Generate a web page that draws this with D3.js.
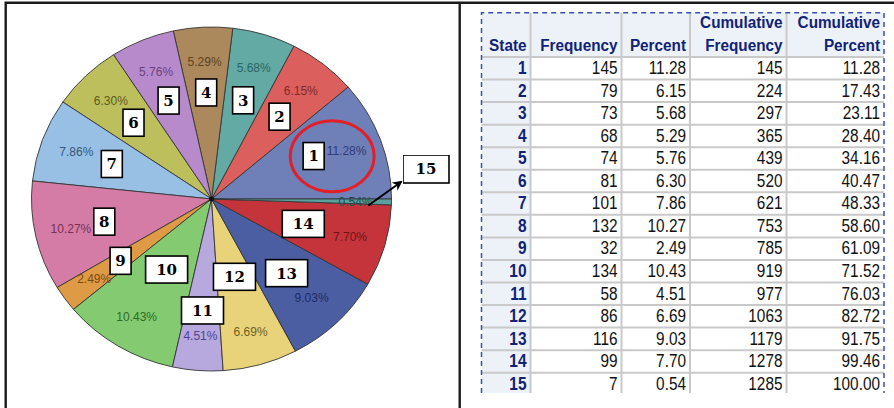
<!DOCTYPE html>
<html>
<head>
<meta charset="utf-8">
<script src="https://cdn.jsdelivr.net/npm/d3@7"></script>
<style>
  body { margin: 0; background: #fff; }
  svg { display: block; }
</style>
</head>
<body>
<div class="chart"></div>
<script>
// table / pie data
const states = ["1","2","3","4","5","6","7","8","9","10","11","12","13","14","15"];
const frequency = [145, 79, 73, 68, 74, 81, 101, 132, 32, 134, 58, 86, 116, 99, 7];
const percent = ["11.28","6.15","5.68","5.29","5.76","6.30","7.86","10.27","2.49","10.43","4.51","6.69","9.03","7.70","0.54"];
const cumFreq = [145, 224, 297, 365, 439, 520, 621, 753, 785, 919, 977, 1063, 1179, 1278, 1285];
const cumPct = ["11.28","17.43","23.11","28.40","34.16","40.47","48.33","58.60","61.09","71.52","76.03","82.72","91.75","99.46","100.00"];
const headers = [["State"], ["Frequency"], ["Percent"], ["Cumulative", "Frequency"], ["Cumulative", "Percent"]];

const sliceColors = ["#6F7FB8","#DA5F5D","#62AAA3","#AC885D","#B78BCB","#BDBE5C","#98C0E4","#D57CA6",
                     "#DE9A44","#83CA70","#B7A9DD","#E8D37B","#4B5EA1","#C6343B","#5AA09F"];
const labelColors = ["#2E3C78","#7E2A2A","#2A6662","#5E4320","#6A3F82","#5C5C1E","#34587A","#7A2F55",
                     "#7A4A14","#2E6A26","#4E4390","#6E5E1E","#1E2A66","#6A1418","#1E4C4C"];

// box distance from centre as fraction of radius, and angle nudge (hand placed annotations)
const boxRadius = [0.62,0.61,0.6,0.62,0.62,0.62,0.59,0.61,0.62,0.48,0.65,0.47,0.6,0.53];
const boxNudge = [0.06,0,0,0,0,0,0,0,0,0,0,0,0,0];

const width = 894, height = 408;
const svg = d3.select("div.chart").append("svg")
    .attr("width", width).attr("height", height)
    .attr("viewBox", `0 0 ${width} ${height}`);

// ---------- pie ----------
const cx = 211.5, cy = 199, R = 180, ky = 172 / 180;

const pie = d3.pie().sort(null).value(d => d)
    .startAngle(Math.PI / 2).endAngle(Math.PI / 2 - 2 * Math.PI);
const arcs = pie(frequency);
const arc = d3.arc().innerRadius(0).outerRadius(R);

const polar = (a, r) => [cx + r * Math.sin(a), cy - r * Math.cos(a) * ky];
const mid = d => (d.startAngle + d.endAngle) / 2;

svg.append("g")
    .attr("transform", `translate(${cx},${cy}) scale(1,${ky})`)
    .selectAll("path")
    .data(arcs)
    .enter()
    .append("path")
    .attr("d", arc)
    .attr("fill", (d, i) => sliceColors[i])
    .attr("stroke", "#333")
    .attr("stroke-width", 0.9);

svg.append("circle").attr("cx", cx).attr("cy", cy).attr("r", 2.5).attr("fill", "#111");

svg.append("g")
    .selectAll("text")
    .data(arcs)
    .enter()
    .append("text")
    .attr("x", d => polar(mid(d), R * 0.8)[0])
    .attr("y", d => polar(mid(d), R * 0.8)[1])
    .attr("dy", "0.35em")
    .attr("text-anchor", "middle")
    .attr("font-family", "Liberation Sans, Arial, sans-serif")
    .attr("font-size", 12)
    .attr("fill", (d, i) => labelColors[i])
    .text((d, i) => percent[i] + "%");

// red ellipse around slice 1
const p1 = polar(mid(arcs[0]), R * 0.715);
svg.append("ellipse")
    .attr("cx", p1[0]).attr("cy", p1[1])
    .attr("rx", 42).attr("ry", 35.5)
    .attr("fill", "none").attr("stroke", "#E21F26").attr("stroke-width", 3);

// numbered boxes
const boxes = svg.append("g")
    .selectAll("g")
    .data(arcs.slice(0, 14))
    .enter()
    .append("g")
    .attr("transform", (d, i) => {
        const p = polar(mid(d) - boxNudge[i], R * boxRadius[i]);
        return `translate(${p[0]},${p[1]})`;
    });

boxes.append("rect")
    .attr("x", (d, i) => states[i].length > 1 ? -21 : -10.5)
    .attr("y", -13.5)
    .attr("width", (d, i) => states[i].length > 1 ? 42 : 21)
    .attr("height", 27)
    .attr("fill", "#fff").attr("stroke", "#000").attr("stroke-width", 1.6);

boxes.append("text")
    .attr("text-anchor", "middle")
    .attr("dy", "0.36em")
    .attr("font-family", "DejaVu Serif, serif")
    .attr("font-weight", "bold")
    .attr("font-size", 15)
    .text((d, i) => states[i]);

// slice 15 callout box (cut by the panel edge) and arrow
const p15 = polar(mid(arcs[14]), R * 0.86);
svg.append("defs").html(
  `<clipPath id="leftpanel"><rect x="0" y="0" width="442" height="408"/></clipPath>
   <marker id="arrow" viewBox="0 0 10 10" refX="8" refY="5" markerWidth="5" markerHeight="5" orient="auto">
     <path d="M0,0 L10,5 L0,10 L3,5 Z" fill="#000"/></marker>`);

const b15 = svg.append("g").attr("clip-path", "url(#leftpanel)")
    .attr("transform", "translate(403,155)");
b15.append("rect").attr("width", 46).attr("height", 28)
    .attr("fill", "#fff").attr("stroke", "#000").attr("stroke-width", 1.6);
b15.append("text").attr("x", 23).attr("y", 14).attr("dy", "0.36em")
    .attr("text-anchor", "middle")
    .attr("font-family", "DejaVu Serif, serif").attr("font-weight", "bold").attr("font-size", 15)
    .text(states[14]);

svg.append("line")
    .attr("x1", p15[0] + 2).attr("y1", p15[1] + 4)
    .attr("x2", 401).attr("y2", 182)
    .attr("stroke", "#000").attr("stroke-width", 2)
    .attr("marker-end", "url(#arrow)");

// ---------- table ----------
const colX = [481.5, 530.5, 621.5, 690, 786.5, 884];
const tTop = 12.7, hBottom = 57, rowH = 22.55, tBottom = 393;
const navy = "#112277", grid = "#C9C9C9";

svg.append("defs").html(`<clipPath id="tableclip"><rect x="470" y="0" width="424" height="${tBottom}"/></clipPath>`);
const table = svg.append("g").attr("clip-path", "url(#tableclip)");

// backgrounds
table.append("rect").attr("x", colX[0]).attr("y", tTop)
    .attr("width", colX[5] - colX[0]).attr("height", hBottom - tTop).attr("fill", "#EDF2F9");
table.append("rect").attr("x", colX[0]).attr("y", hBottom)
    .attr("width", colX[1] - colX[0]).attr("height", rowH * states.length).attr("fill", "#EDF2F9");

// grid lines
table.append("g")
    .selectAll("line")
    .data(d3.range(states.length + 1))
    .enter()
    .append("line")
    .attr("x1", colX[0]).attr("x2", colX[5])
    .attr("y1", i => hBottom + i * rowH).attr("y2", i => hBottom + i * rowH)
    .attr("stroke", grid).attr("stroke-width", 2);

table.append("g")
    .selectAll("line")
    .data(colX.slice(1, 5))
    .enter()
    .append("line")
    .attr("x1", d => d).attr("x2", d => d)
    .attr("y1", tTop).attr("y2", hBottom + rowH * states.length)
    .attr("stroke", grid).attr("stroke-width", 2);

// dashed outer border
table.append("path")
    .attr("d", `M${colX[0]},${tBottom}V${tTop}H${colX[5]}V${tBottom}`)
    .attr("fill", "none").attr("stroke", "#3A52A8").attr("stroke-width", 1.5)
    .attr("stroke-dasharray", "5,4");

// text helper: right aligned, horizontally condensed
function cellText(g, x, y, txt, opts) {
    g.append("g")
        .attr("transform", `translate(${x},${y}) scale(${opts.sx},1)`)
        .append("text")
        .attr("text-anchor", "end")
        .attr("font-family", "Liberation Sans, Arial, sans-serif")
        .attr("font-size", opts.size)
        .attr("font-weight", opts.bold ? "bold" : "normal")
        .attr("fill", opts.color)
        .text(txt);
}

headers.forEach((lines, c) => {
    lines.slice().reverse().forEach((ln, k) => {
        cellText(table, colX[c + 1] - 4, 50.5 - k * 23, ln, { sx: 0.9, size: 17, bold: true, color: navy });
    });
});

const columns = [states, frequency, percent, cumFreq, cumPct];
columns.forEach((col, c) => {
    col.forEach((v, r) => {
        const y = hBottom + r * rowH + 17;
        cellText(table, colX[c + 1] - 4, y, v, c === 0
            ? { sx: 0.86, size: 18, bold: true, color: navy }
            : { sx: 0.83, size: 18.5, bold: false, color: "#111" });
    });
});

// ---------- frame ----------
const frame = svg.append("g").attr("stroke", "#1a1a1a").attr("fill", "none");
frame.append("path").attr("d", `M5.7,${height}V2.8H${width}`).attr("stroke-width", 2.4);
frame.append("line").attr("x1", 459.7).attr("x2", 459.7).attr("y1", 2.8).attr("y2", height).attr("stroke-width", 2.4);
</script>
</body>
</html>
